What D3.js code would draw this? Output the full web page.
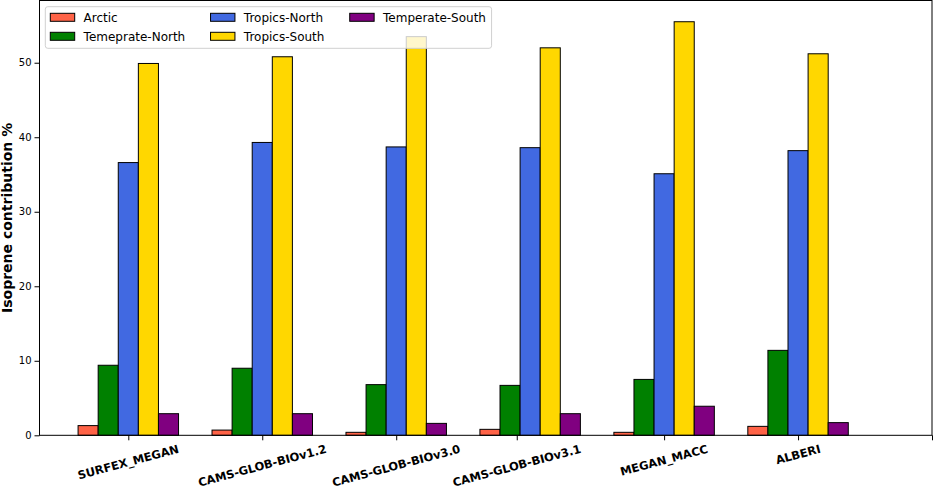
<!DOCTYPE html>
<html lang="en">
<head>
<meta charset="utf-8">
<title>Isoprene contribution</title>
<script src="https://cdn.jsdelivr.net/npm/d3@7"></script>
<style>
  body { margin: 0; background: #fff; }
  svg { display: block; font-family: "DejaVu Sans", sans-serif; }
</style>
</head>
<body>
<script>

// data
var models = ["SURFEX_MEGAN", "CAMS-GLOB-BIOv1.2", "CAMS-GLOB-BIOv3.0", "CAMS-GLOB-BIOv3.1", "MEGAN_MACC", "ALBERI"];
var regions = ["Arctic", "Temeprate-North", "Tropics-North", "Tropics-South", "Temperate-South"];
var colours = ["#ff6347", "#008000", "#4169e1", "#ffd700", "#800080"];

var arctic         = [1.3, 0.7, 0.4, 0.8, 0.4, 1.2];
var temperateNorth = [9.4, 9.0, 6.8, 6.7, 7.5, 11.4];
var tropicsNorth   = [36.6, 39.3, 38.7, 38.6, 35.1, 38.2];
var tropicsSouth   = [49.9, 50.8, 53.5, 52.0, 55.5, 51.2];
var temperateSouth = [2.9, 2.9, 1.6, 2.9, 3.9, 1.7];

// tick positions (category units) and labels on the x axis
var xTickPos = [0, 1, 2, 2.9, 4, 5, 6];
var xTickLabels = ["SURFEX_MEGAN", "CAMS-GLOB-BIOv1.2", "CAMS-GLOB-BIOv3.0", "CAMS-GLOB-BIOv3.1", "MEGAN_MACC", "ALBERI", ""];
var yTicks = [0, 10, 20, 30, 40, 50];

var series = [arctic, temperateNorth, tropicsNorth, tropicsSouth, temperateSouth];

var w = 933, h = 488;
var pLeft = 39.5, pRight = 932, pTop = 0.5, pBottom = 435.3;
var barW = 0.15;

var svg = d3.select("body").append("svg").attr("width", w).attr("height", h);

var x = d3.scaleLinear().domain([-0.663, 6.0]).range([pLeft, pRight]);
var y = d3.scaleLinear().domain([0, 58.35]).range([pBottom, pTop]);

// bars
series.forEach(function(vals, k){
  svg.append("g").selectAll("rect")
    .data(vals)
    .enter()
    .append("rect")
    .attr("x", function(d, i){ return x(i + (k - 2) * barW - barW / 2); })
    .attr("width", function(){ return x(barW) - x(0); })
    .attr("y", function(d){ return y(d); })
    .attr("height", function(d){ return y(0) - y(d); })
    .attr("fill", colours[k])
    .attr("stroke", "#000")
    .attr("stroke-width", 1);
});

// y axis
var yAxis = svg.append("g")
  .attr("transform", "translate(" + pLeft + ",0)")
  .call(d3.axisLeft(y).tickValues(yTicks).tickSize(5).tickPadding(3).tickFormat(d3.format("d")));
yAxis.select(".domain").remove();
yAxis.selectAll("text").attr("font-size", "10px").attr("font-family", "DejaVu Sans").attr("fill", "#000");

// x axis
var xAxis = svg.append("g")
  .attr("transform", "translate(0," + pBottom + ")")
  .call(d3.axisBottom(x).tickValues(xTickPos).tickSize(5).tickFormat(""));
xAxis.select(".domain").remove();

// x tick labels: bold, rotated 15deg, top of rotated box just below the ticks
var ang = 15 * Math.PI / 180;
xTickPos.forEach(function(p, i){
  if (!xTickLabels[i]) return;
  var t = svg.append("text")
    .text(xTickLabels[i])
    .attr("font-size", "11.5px")
    .attr("font-weight", "bold")
    .attr("font-family", "DejaVu Sans")
    .attr("text-anchor", "middle")
    .attr("dy", "0.35em");
  var L = t.node().getComputedTextLength();
  var boxH = L * Math.sin(ang) + 11.5 * Math.cos(ang);
  var cy = 443 + boxH / 2;
  t.attr("transform", "translate(" + x(p) + "," + cy + ") rotate(-15)");
});

// frame
svg.append("rect")
  .attr("x", pLeft).attr("y", pTop)
  .attr("width", pRight - pLeft).attr("height", pBottom - pTop)
  .attr("fill", "none").attr("stroke", "#000").attr("stroke-width", 1);

// y label
svg.append("text")
  .text("Isoprene contribution %")
  .attr("transform", "translate(12," + ((pTop + pBottom) / 2) + ") rotate(-90)")
  .attr("text-anchor", "middle")
  .attr("font-size", "14px")
  .attr("font-weight", "bold")
  .attr("font-family", "DejaVu Sans");

// legend, 3 columns filled column by column
var lg = svg.append("g");
var lgFont = 12, handleW = 24.4, handleH = 8, textPad = 8.9, colGap = 25.3;
var rowY = [17.3, 36.3];
var cols = [[0, 1], [2, 3], [4]];
var box = lg.append("rect")
  .attr("x", 45.3).attr("y", 6.7).attr("rx", 2.5).attr("ry", 2.5)
  .attr("height", 48.3 - 6.7)
  .attr("fill", "rgba(255,255,255,0.8)")
  .attr("stroke", "#d0d0d0").attr("stroke-width", 1);

var cx = 50.3;
cols.forEach(function(col){
  var maxW = 0;
  col.forEach(function(k, r){
    lg.append("rect")
      .attr("x", cx).attr("y", rowY[r] - handleH / 2)
      .attr("width", handleW).attr("height", handleH)
      .attr("fill", colours[k]).attr("stroke", "#000").attr("stroke-width", 1);
    var t = lg.append("text")
      .text(regions[k])
      .attr("x", cx + handleW + textPad)
      .attr("y", rowY[r] + 4.3)
      .attr("font-size", lgFont + "px")
      .attr("font-family", "DejaVu Sans")
      .attr("fill", "#000");
    maxW = Math.max(maxW, t.node().getComputedTextLength());
  });
  cx = cx + handleW + textPad + maxW + colGap;
});
box.attr("width", cx - colGap + 5.6 - 45.3);

</script>
</body>
</html>
